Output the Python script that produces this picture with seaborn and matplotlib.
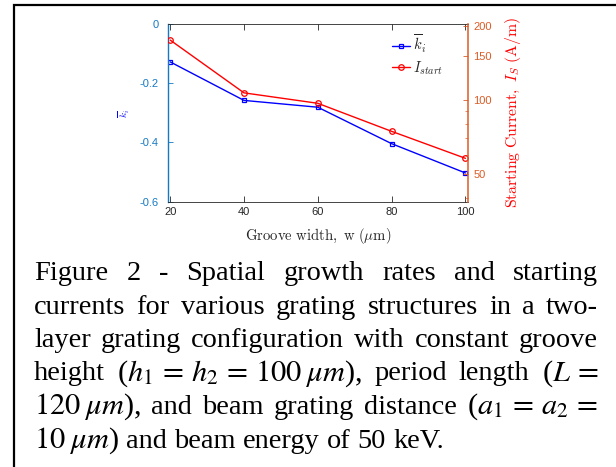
import numpy as np
import pandas as pd
import seaborn as sns
import matplotlib
matplotlib.use("Agg")
import matplotlib.pyplot as plt
from matplotlib.ticker import FixedLocator, FixedFormatter, NullFormatter
from matplotlib.patches import Rectangle

# ---------------- data ----------------
groove_width = [20, 40, 60, 80, 100]
k_i = [-0.128, -0.258, -0.281, -0.404, -0.503]
i_start = [174.7, 106.8, 96.9, 74.6, 58.0]

x_ticks = [20, 40, 60, 80, 100]
x_tick_labels = ["20", "40", "60", "80", "100"]
left_ticks = [-0.6, -0.4, -0.2, 0.0]
left_tick_labels = ["-0.6", "-0.4", "-0.2", "0"]
right_ticks = [50, 100, 150, 200]
right_tick_labels = ["50", "100", "150", "200"]
right_minor_ticks = [40, 60, 70, 80, 90]

caption_lines = [
    ["Figure", "2", "-", "Spatial", "growth", "rates", "and", "starting"],
    ["currents", "for", "various", "grating", "structures", "in", "a", "two-"],
    ["layer", "grating", "configuration", "with", "constant", "groove"],
    ["height", r"($h_1\,=\,h_2\,=\,100\;\mu m$),", "period", "length", r"($L\,=$"],
    [r"$120\;\mu m$),", "and", "beam", "grating", "distance", r"($a_1\,=\,a_2\,=$"],
    [r"$10\;\mu m$)", "and", "beam", "energy", "of", "50", "keV."],
]
caption_justify = [True, True, True, True, True, False]

# ---------------- style ----------------
sns.set_style("white")
plt.rcParams["font.family"] = ["Liberation Sans", "DejaVu Sans"]
plt.rcParams["mathtext.fontset"] = "cm"

W, H = 616, 467
fig = plt.figure(figsize=(W / 100, H / 100), dpi=100)
fig.patch.set_facecolor("white")

ax_left, ax_right, ax_top, ax_bot = 168, 468, 24, 201.7
ax = fig.add_axes([ax_left / W, 1 - ax_bot / H, (ax_right - ax_left) / W, (ax_bot - ax_top) / H])

BLUE_AX = "#1679C4"
ORANGE_AX = "#DB5C26"
DARK = "#262626"

df = pd.DataFrame({"w": groove_width, "k": k_i, "I": i_start})

sns.lineplot(data=df, x="w", y="k", ax=ax, color="blue", marker="s",
             markersize=3.5, markerfacecolor="none", markeredgecolor="blue",
             markeredgewidth=0.9, linewidth=1.0, label=r"$\overline{k}_i$", legend=False)

ax2 = ax.twinx()
sns.lineplot(data=df, x="w", y="I", ax=ax2, color="red", marker="o",
             markersize=4, markerfacecolor="none", markeredgecolor="red",
             markeredgewidth=0.9, linewidth=1.0, label=r"$I_{start}$", legend=False)

ax.set_xlim(19.4, 100.7)
ax.set_ylim(-0.6, 0.0)
ax2.set_yscale("log")
ax2.set_ylim(38.7, 203)

ax.set_xticks(x_ticks)
ax.set_xticklabels(x_tick_labels)
ax.set_yticks(left_ticks)
ax.set_yticklabels(left_tick_labels)
ax2.yaxis.set_major_locator(FixedLocator(right_ticks))
ax2.yaxis.set_major_formatter(FixedFormatter(right_tick_labels))
ax2.yaxis.set_minor_locator(FixedLocator(right_minor_ticks))
ax2.yaxis.set_minor_formatter(NullFormatter())

ax.tick_params(axis="x", which="both", direction="in", bottom=True, top=True,
               length=4, width=0.6, color=DARK, labelcolor=DARK, labelsize=8, pad=4)
ax.tick_params(axis="y", which="both", direction="in", left=True, right=False,
               length=3.5, width=0.6, color=BLUE_AX, labelcolor=BLUE_AX, labelsize=8, pad=7)
ax2.tick_params(axis="y", which="major", direction="in", right=True, left=False,
                length=3.5, width=0.6, color=ORANGE_AX, labelcolor=ORANGE_AX, labelsize=8, pad=4)
ax2.tick_params(axis="y", which="minor", direction="in", right=True, left=False,
                length=2, width=0.5, color=ORANGE_AX)

for s in ["top", "bottom"]:
    ax.spines[s].set_color(DARK)
    ax.spines[s].set_linewidth(0.6)
ax.spines["left"].set_color(BLUE_AX)
ax.spines["left"].set_linewidth(1.0)
ax.spines["right"].set_visible(False)
for s in ["left", "top", "bottom"]:
    ax2.spines[s].set_visible(False)
ax2.spines["right"].set_color(ORANGE_AX)
ax2.spines["right"].set_linewidth(1.1)

ax.set_xlabel(r"$\mathrm{Groove\ width,\ w\ (}\mu\mathrm{m)}$", fontsize=10.6, color=DARK)
ax.xaxis.set_label_coords(0.5, -0.135)
ax.set_ylabel(r"$\overline{k}_i$", fontsize=7, color="blue")
ax.yaxis.set_label_coords(-0.12, 0.5)
ax2.set_ylabel(r"$\mathrm{Starting\ Current,\ }I_S\mathrm{\ (A/m)}$", fontsize=11.3, color="red")
ax2.yaxis.set_label_coords(1.117, 0.5)

handles = ax.get_lines()[:1] + ax2.get_lines()[:1]
labels = [r"$\overline{k}_i$", r"$I_{start}$"]
ax2.legend(handles, labels, loc="upper left", bbox_to_anchor=((392 - ax_left) / 300, (ax_bot - 33) / (ax_bot - ax_top)),
           frameon=False, fontsize=10.5, borderpad=0, borderaxespad=0,
           handlelength=1.25, handletextpad=0.2, labelspacing=0.3)

# ---------------- figure border ----------------
fig.add_artist(Rectangle((14 / W, -0.5), 2.0, 1.5 - 5 / H, transform=fig.transFigure,
                         fill=False, edgecolor="black", linewidth=1.6))

# ---------------- caption (justified) ----------------
renderer = fig.canvas.get_renderer()
x0, x1 = 34, 598
baselines = [280, 313.5, 347, 380.5, 414, 447.5]


def make_text(s, fs):
    size = fs * 1.07 if "$" in s else fs
    return fig.text(0, 0, s, fontsize=size, family="Liberation Serif",
                    math_fontfamily="stix", va="baseline", ha="left", color="black")


def width_of(s, fs):
    t = make_text(s, fs)
    w = t.get_window_extent(renderer).width
    t.remove()
    return w


base_fs = 20
sp0 = width_of("a a", base_fs) - width_of("aa", base_fs)
nat = []
for toks in caption_lines[:3]:
    nat.append(sum(width_of(t, base_fs) for t in toks) + sp0 * (len(toks) - 1))
fs = base_fs * 0.975 * (x1 - x0) / max(nat)
sp = width_of("a a", fs) - width_of("aa", fs)

for toks, yb, just in zip(caption_lines, baselines, caption_justify):
    texts = [make_text(t, fs) for t in toks]
    widths = [t.get_window_extent(renderer).width for t in texts]
    total = sum(widths)
    gap = (x1 - x0 - total) / (len(toks) - 1) if just else sp
    x = x0
    for t, w in zip(texts, widths):
        t.set_position((x / W, 1 - yb / H))
        x += w + gap

fig.savefig("out.png", dpi=100)
